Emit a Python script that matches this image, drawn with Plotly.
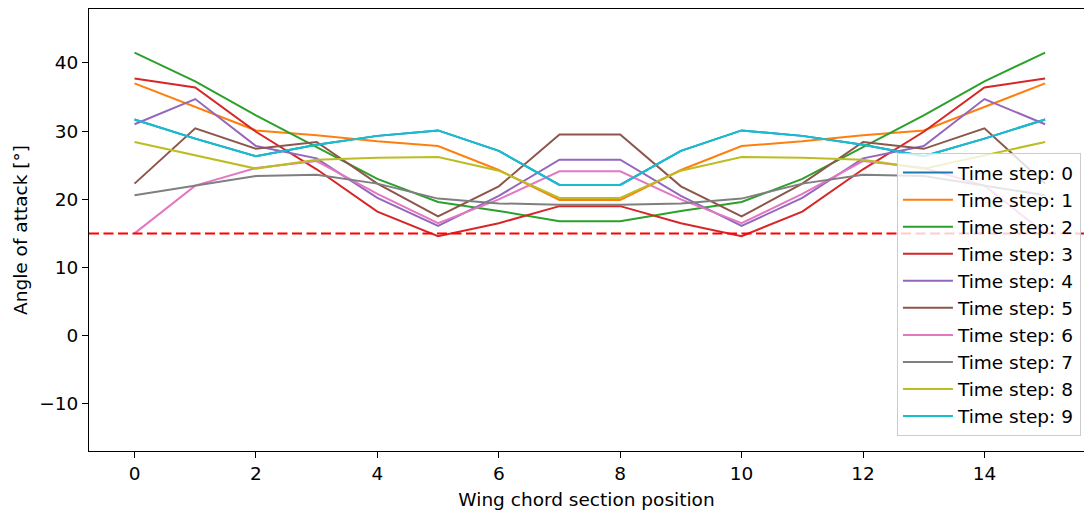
import plotly.graph_objects as go

positions = list(range(16))

ts0 = [31.7, 28.9, 26.3, 28.0, 29.3, 30.1, 27.1, 22.1, 22.1, 27.1, 30.1, 29.3, 28.0, 26.3, 28.9, 31.7]
ts1 = [37.0, 33.6, 30.1, 29.4, 28.5, 27.8, 24.3, 19.9, 19.9, 24.3, 27.8, 28.5, 29.4, 30.1, 33.6, 37.0]
ts2 = [41.5, 37.3, 32.3, 27.6, 23.0, 19.6, 18.3, 16.8, 16.8, 18.3, 19.6, 23.0, 27.6, 32.3, 37.3, 41.5]
ts3 = [37.7, 36.4, 29.9, 24.4, 18.2, 14.6, 16.5, 19.0, 19.0, 16.5, 14.6, 18.2, 24.4, 29.9, 36.4, 37.7]
ts4 = [31.0, 34.7, 27.8, 26.0, 20.2, 16.1, 20.5, 25.8, 25.8, 20.5, 16.1, 20.2, 26.0, 27.8, 34.7, 31.0]
ts5 = [22.3, 30.4, 27.4, 28.4, 22.3, 17.5, 21.9, 29.5, 29.5, 21.9, 17.5, 22.3, 28.4, 27.4, 30.4, 22.3]
ts6 = [15.0, 22.0, 24.6, 25.6, 20.8, 16.5, 20.0, 24.1, 24.1, 20.0, 16.5, 20.8, 25.6, 24.6, 22.0, 15.0]
ts7 = [20.6, 22.0, 23.4, 23.6, 22.3, 20.1, 19.4, 19.2, 19.2, 19.4, 20.1, 22.3, 23.6, 23.4, 22.0, 20.6]
ts8 = [28.4, 26.5, 24.5, 25.8, 26.1, 26.2, 24.2, 20.2, 20.2, 24.2, 26.2, 26.1, 25.8, 24.5, 26.5, 28.4]
ts9 = [31.7, 28.9, 26.3, 28.0, 29.3, 30.1, 27.1, 22.1, 22.1, 27.1, 30.1, 29.3, 28.0, 26.3, 28.9, 31.7]

series = [ts0, ts1, ts2, ts3, ts4, ts5, ts6, ts7, ts8, ts9]
labels = [f"Time step: {i}" for i in range(10)]
colors = ["#1f77b4", "#ff7f0e", "#2ca02c", "#d62728", "#9467bd",
          "#8c564b", "#e377c2", "#7f7f7f", "#bcbd22", "#17becf"]
threshold = 15

fig = go.Figure()
for vals, lab, col in zip(series, labels, colors):
    fig.add_trace(go.Scatter(x=positions, y=vals, mode="lines", name=lab,
                             line=dict(color=col, width=2)))

fig.add_shape(type="line", xref="paper", x0=0, x1=1, yref="y", y0=threshold, y1=threshold,
              line=dict(color="red", width=2, dash="10px,4.5px"), layer="above")

font_family = "DejaVu Sans"
fs = 18.5
fig.update_layout(
    width=1084, height=512,
    margin=dict(l=89, r=0, t=9, b=61),
    paper_bgcolor="white", plot_bgcolor="white",
    font=dict(family=font_family, size=fs, color="black"),
    showlegend=True,
    legend=dict(x=0.812, y=0.674, xanchor="left", yanchor="top",
                itemwidth=50,
                bgcolor="rgba(255,255,255,0.8)", bordercolor="#cccccc", borderwidth=1,
                font=dict(family=font_family, size=fs, color="black")),
    xaxis=dict(range=[-0.75, 15.64], tickmode="array", tickvals=[0, 2, 4, 6, 8, 10, 12, 14],
               showgrid=False, zeroline=False, showline=True, linecolor="black", linewidth=1,
               mirror=True, ticks="outside", ticklen=6, tickcolor="black",
               tickfont=dict(size=fs),
               title=dict(text="Wing chord section position", font=dict(size=fs), standoff=9)),
    yaxis=dict(range=[-16.9, 47.9], tickmode="array", tickvals=[-10, 0, 10, 20, 30, 40],
               ticktext=["\u221210", "0", "10", "20", "30", "40"],
               showgrid=False, zeroline=False, showline=True, linecolor="black", linewidth=1,
               ticks="outside", ticklen=6, tickcolor="black",
               tickfont=dict(size=fs),
               title=dict(text="Angle of attack [°]", font=dict(size=fs), standoff=6)),
)

fig.write_html("out.html")
